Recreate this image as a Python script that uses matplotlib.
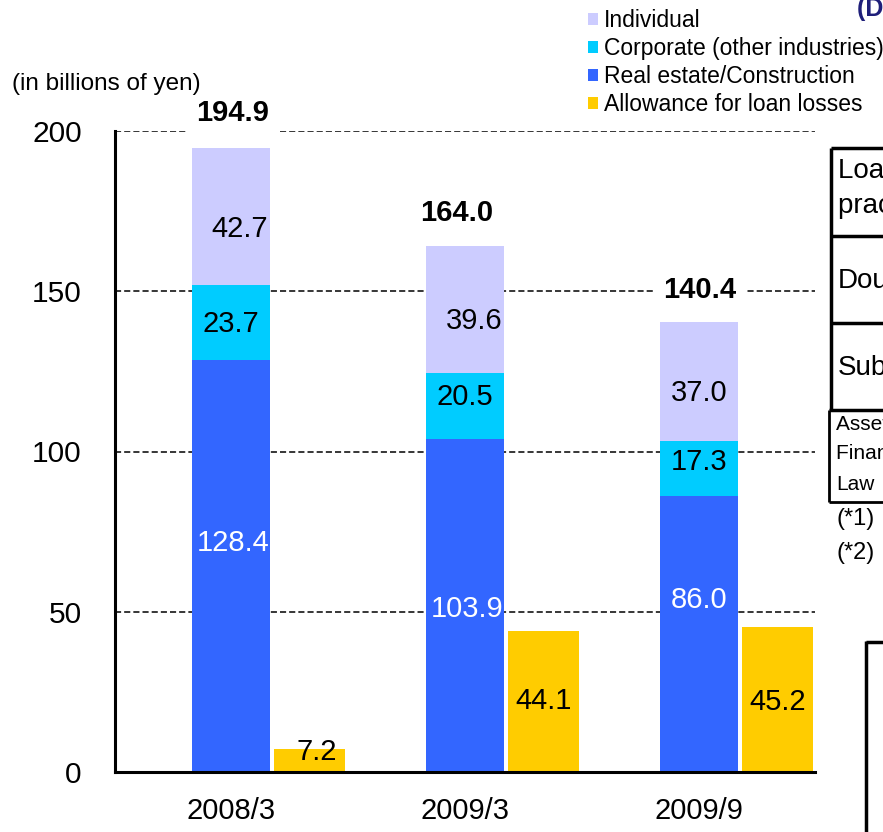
import matplotlib
matplotlib.use("Agg")
import matplotlib.pyplot as plt
from matplotlib.patches import Patch
from matplotlib.lines import Line2D
import numpy as np

plt.rcParams['font.family'] = ['Liberation Sans', 'DejaVu Sans']

# ---- data ----
categories = ["2008/3", "2009/3", "2009/9"]
individual = [42.7, 39.6, 37.0]
corporate = [23.7, 20.5, 17.3]
real_estate = [128.4, 103.9, 86.0]
allowance = [7.2, 44.1, 45.2]
totals = [194.9, 164.0, 140.4]
series_names = ["Individual", "Corporate (other industries)",
                "Real estate/Construction", "Allowance for loan losses"]
yticks = [0, 50, 100, 150, 200]

# ---- style ----
c_ind = "#CCCCFF"
c_corp = "#00CCFF"
c_re = "#3366FF"
c_all = "#FFCC00"

W, H = 883, 832
fig = plt.figure(figsize=(W / 100, H / 100), dpi=100)
fig.patch.set_facecolor("white")

ax = fig.add_axes([115 / W, 1 - 772 / H, (815 - 115) / W, (772 - 131) / H])
x = np.arange(len(categories))
sw = 0.333
aw = 0.303
aoff = 0.336

re = np.array(real_estate)
co = np.array(corporate)
ind = np.array(individual)

ax.bar(x, re, sw, color=c_re, zorder=2)
ax.bar(x, co, sw, bottom=re, color=c_corp, zorder=2)
ax.bar(x, ind, sw, bottom=re + co, color=c_ind, zorder=2)
ax.bar(x + aoff, allowance, aw, color=c_all, zorder=2)

ax.set_xlim(-0.496, 2.496)
ax.set_ylim(0, 200)
ax.set_yticks(yticks)
ax.set_yticklabels([str(v) for v in yticks])
ax.set_xticks(x)
ax.set_xticklabels(categories)
ax.tick_params(axis='y', length=0, pad=24, labelsize=21.5)
ax.tick_params(axis='x', length=0, pad=18, labelsize=21)

ax.yaxis.grid(True, linestyle=(0, (4, 2)), color="black", lw=1.1)
ax.set_axisbelow(True)
for s in ["top", "right"]:
    ax.spines[s].set_visible(False)
ax.spines["left"].set_linewidth(2.2)
ax.spines["bottom"].set_linewidth(2.2)
ax.spines["left"].set_zorder(3)
ax.spines["bottom"].set_zorder(3)

fs = 21
# segment labels (offsets relative to segment centres, in data units)
ind_off = [(0.035, -4.0), (0.04, -3.5), (0.0, -3.5)]
corp_off = [(0.0, -0.5), (0.0, 2.7), (0.0, 2.0)]
re_off = [(0.01, 7.2), (0.01, -1.0), (0.0, 10.7)]
for i in range(len(categories)):
    cy = re[i] + co[i] + ind[i] / 2
    ax.text(x[i] + ind_off[i][0], cy + ind_off[i][1], f"{ind[i]:.1f}",
            ha="center", va="center", fontsize=fs, color="black", zorder=4)
    cy = re[i] + co[i] / 2
    ax.text(x[i] + corp_off[i][0], cy + corp_off[i][1], f"{co[i]:.1f}",
            ha="center", va="center", fontsize=fs, color="black", zorder=4)
    cy = re[i] / 2
    ax.text(x[i] + re_off[i][0], cy + re_off[i][1], f"{re[i]:.1f}",
            ha="center", va="center", fontsize=fs, color="white", zorder=4)

all_off = [(0.03, 0.0), (0.0, 0.0), (0.0, -0.7)]
for i in range(len(categories)):
    if allowance[i] < 15:
        yy = allowance[i] - 1.1
    else:
        yy = allowance[i] / 2
    ax.text(x[i] + aoff + all_off[i][0], yy + all_off[i][1], f"{allowance[i]:.1f}",
            ha="center", va="center", fontsize=fs, color="black", zorder=4)

tot_y = [10.7, 10.4, 10.0]
tot_dx = [0.005, -0.035, 0.005]
for i in range(len(categories)):
    ax.text(x[i] + tot_dx[i], totals[i] + tot_y[i], f"{totals[i]:.1f}",
            ha="center", va="center", fontsize=fs, fontweight="bold",
            color="black", zorder=5, clip_on=False,
            bbox=dict(boxstyle="square,pad=0.3", fc="white", ec="none"))

fig.text(12 / W, 1 - 84 / H, "(in billions of yen)", fontsize=17.5,
         ha="left", va="center")

handles = [Patch(facecolor=c, edgecolor="none") for c in [c_ind, c_corp, c_re, c_all]]
leg = fig.legend(handles, series_names, loc="upper left",
                 bbox_to_anchor=(588 / W, 1 - 9 / H), frameon=False,
                 fontsize=16.5, handlelength=0.45, handleheight=0.45,
                 handletextpad=0.25, labelspacing=0.22, borderpad=0.0,
                 borderaxespad=0.0)

# ---- partially visible elements at the right edge ----
def fline(x0, y0, x1, y1, lw=2.5, color="black"):
    fig.add_artist(Line2D([x0 / W, x1 / W], [1 - y0 / H, 1 - y1 / H],
                          color=color, lw=lw, solid_capstyle="butt"))

fline(831, 148, 883, 148)
fline(831, 148, 831, 410)
fline(831, 236, 883, 236)
fline(831, 323, 883, 323)
fline(829, 410, 883, 410)
fline(829, 410, 829, 502, lw=2.0)
fline(829, 502, 883, 502, lw=2.0)

fig.text(838 / W, 1 - 171 / H, "Loans to bankrupt or", fontsize=20, va="center")
fig.text(838 / W, 1 - 206 / H, "practically bankrupt", fontsize=20, va="center")
fig.text(838 / W, 1 - 281 / H, "Doubtful", fontsize=20, va="center")
fig.text(838 / W, 1 - 368 / H, "Substandard", fontsize=20, va="center")
fig.text(836 / W, 1 - 425 / H, "Assets based on the", fontsize=15, va="center")
fig.text(836 / W, 1 - 454 / H, "Financial Reconstruction", fontsize=15, va="center")
fig.text(836 / W, 1 - 484 / H, "Law", fontsize=15, va="center")
fig.text(837 / W, 1 - 519 / H, "(*1)", fontsize=17, va="center")
fig.text(837 / W, 1 - 553 / H, "(*2)", fontsize=17, va="center")
fig.text(857 / W, 1 - 9 / H, "(Disclosed claims)", fontsize=18, va="center",
         fontweight="bold", color="#1F1F7A")

fline(866, 642, 883, 642, lw=2.5)
fline(866, 641, 866, 832, lw=2.5)

fig.savefig("out.png", dpi=100, facecolor="white")
